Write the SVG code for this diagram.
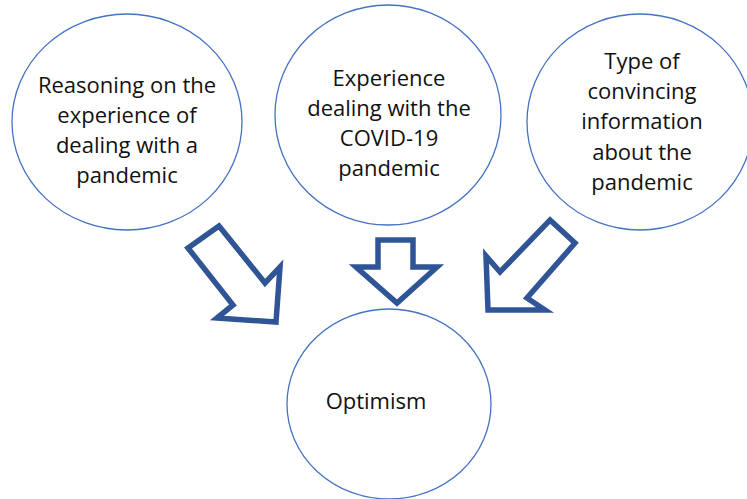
<svg xmlns="http://www.w3.org/2000/svg" width="747" height="499" viewBox="0 0 747 499">
<style>
.c{fill:#fff;stroke:#4472C4;stroke-width:1.3}
.t{font-family:"Open Sans","Noto Sans",sans-serif;font-size:22px;fill:#111;text-anchor:middle}
.a{fill:#fff;stroke:#2F5597;stroke-width:5.5;stroke-linejoin:miter}
</style>
<rect width="747" height="499" fill="#fff"/>
<g id="n1">
<ellipse class="c" cx="127" cy="122" rx="115" ry="108"/>
<text class="t"><tspan x="127" y="93">Reasoning on the</tspan><tspan x="127" y="123">experience of</tspan><tspan x="127" y="153">dealing with a</tspan><tspan x="127" y="183">pandemic</tspan></text>
</g>
<g id="n2">
<ellipse class="c" cx="388" cy="115" rx="113" ry="110"/>
<text class="t"><tspan x="389" y="86">Experience</tspan><tspan x="389" y="116">dealing with the</tspan><tspan x="389" y="146">COVID-19</tspan><tspan x="389" y="176">pandemic</tspan></text>
</g>
<g id="n3">
<ellipse class="c" cx="640" cy="122" rx="113" ry="108"/>
<text class="t"><tspan x="642" y="69">Type of</tspan><tspan x="642" y="99">convincing</tspan><tspan x="642" y="129">information</tspan><tspan x="642" y="160">about the</tspan><tspan x="642" y="190">pandemic</tspan></text>
</g>
<g id="n4">
<ellipse class="c" cx="389" cy="404" rx="102" ry="95"/>
<text class="t" x="376" y="409">Optimism</text>
</g>
<g id="connectors">
<polygon class="a" points="188,248 219,226 265,283 280,267 276,322 217,318 233,305"/>
<polygon class="a" points="378,240 413,240 413,267 437,267 397,303 356,267 378,267"/>
<polygon class="a" points="550,220 575,243 527,298 545,310 488,310 486,256 500,272"/>
</g>
</svg>
